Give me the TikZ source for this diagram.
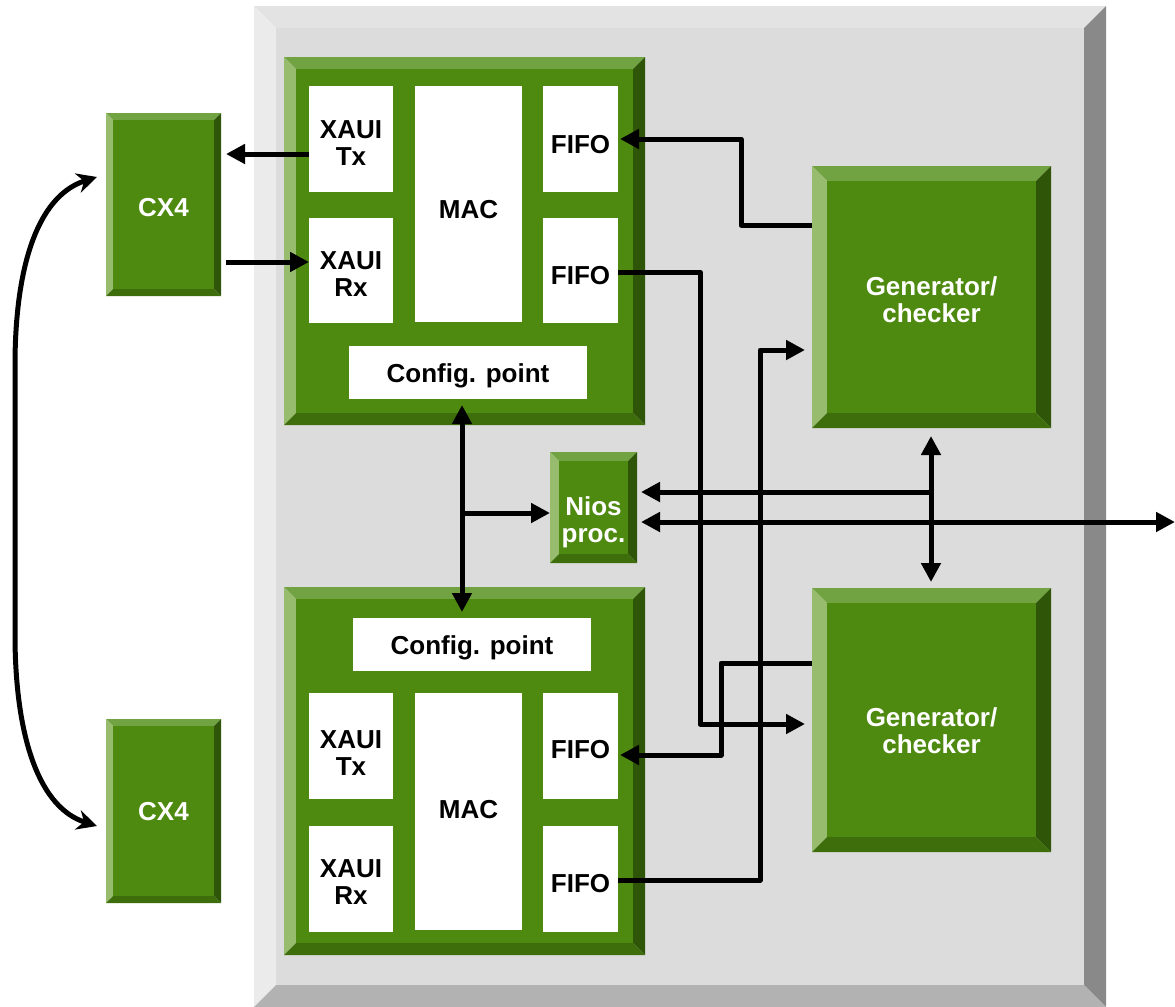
\documentclass[tikz,border=0pt]{standalone}
\usepackage{fontspec}
\setmainfont{Liberation Sans}
\usetikzlibrary{arrows.meta}
\definecolor{gtop}{HTML}{72A343}
\definecolor{gleft}{HTML}{97BC6E}
\definecolor{gright}{HTML}{2F5508}
\definecolor{gbot}{HTML}{3E6D0C}
\definecolor{gface}{HTML}{4F8A10}
\definecolor{ptop}{HTML}{E3E3E3}
\definecolor{pleft}{HTML}{EBEBEB}
\definecolor{pright}{HTML}{898989}
\definecolor{pbot}{HTML}{B2B2B2}
\definecolor{pface}{HTML}{DCDCDC}
% #1 name, #2-#5 x1 y1 x2 y2, #6 bevel, #7 palette, #8 text, #9 text drop (px)
\newcommand\bevbox[9]{%
  \fill[#7top] (#2,#3) -- (#4,#3) -- ({#4-#6},{#3+#6}) -- ({#2+#6},{#3+#6}) -- cycle;
  \fill[#7left] (#2,#3) -- ({#2+#6},{#3+#6}) -- ({#2+#6},{#5-#6}) -- (#2,#5) -- cycle;
  \fill[#7right] (#4,#3) -- (#4,#5) -- ({#4-#6},{#5-#6}) -- ({#4-#6},{#3+#6}) -- cycle;
  \fill[#7bot] (#2,#5) -- (#4,#5) -- ({#4-#6},{#5-#6}) -- ({#2+#6},{#5-#6}) -- cycle;
  \fill[#7face] ({#2+#6},{#3+#6}) rectangle ({#4-#6},{#5-#6});
  \node[boxat={#2}{#3}{#4}{#5}, label={[boxtext, text=white, yshift={-#9*0.5pt}]center:{#8}}] (#1) {};
}
% #1 name, #2-#5 x1 y1 x2 y2, #6 text, #7 text drop (px)
\newcommand\wb[7]{\node[boxat={#2}{#3}{#4}{#5}, fill=white, label={[boxtext, text=black, yshift={-#7*0.5pt}]center:{#6}}] (#1) {};}
\tikzset{
  boxat/.style n args={4}{inner sep=0pt, outer sep=0pt, anchor=center,
    minimum width={(#3-#1)*0.5pt}, minimum height={(#4-#2)*0.5pt},
    at={({(#1+#3)/2},{(#2+#4)/2})}},
  boxtext/.style={align=center, inner sep=0pt, font=\bfseries\fontsize{13}{13.5}\selectfont},
  arr/.style={line width=2.5pt, line join=round, -{Triangle[length=9.5pt,width=9.5pt]}},
  darr/.style={line width=2.5pt, line join=round, {Triangle[length=9.5pt,width=9.5pt]}-{Triangle[length=9.5pt,width=9.5pt]}},
  carr/.style={line width=2.5pt, {Stealth[length=10pt,width=10pt]}-{Stealth[length=10pt,width=10pt]}},
}
\begin{document}
\begin{tikzpicture}[x=0.5pt,y=-0.5pt]
\useasboundingbox (0,0) rectangle (1175,1007);
% panel
\bevbox{panel}{254}{6}{1106}{1007}{22}{p}{}{0}
% green blocks
\bevbox{mac1blk}{284}{57}{645}{425}{12}{g}{}{0}
\bevbox{mac2blk}{284}{587}{645}{955}{12}{g}{}{0}
\bevbox{cx1}{106}{113}{221}{296}{7}{g}{CX4}{3.5}
\bevbox{cx2}{106}{719}{221}{903}{7}{g}{CX4}{1}
\bevbox{gen1}{812}{166}{1051}{428}{15}{g}{Generator/\\checker}{2.5}
\bevbox{gen2}{812}{588}{1051}{852}{15}{g}{Generator/\\checker}{10.5}
\bevbox{nios}{550}{452}{637}{563}{9}{g}{Nios\\proc.}{14.5}
% white boxes, top block
\wb{xtx1}{309}{86}{393}{192}{XAUI\\Tx}{4.5}
\wb{mac1}{415}{86}{522}{322}{MAC}{6}
\wb{fifo1t}{543}{86}{618}{192}{FIFO}{6}
\wb{xrx1}{309}{218}{393}{323}{XAUI\\Rx}{3.5}
\wb{fifo1b}{543}{218}{618}{323}{FIFO}{5.5}
\wb{cfg1}{349}{346}{587}{399}{Config. point}{3.5}
% white boxes, bottom block
\wb{cfg2}{353}{618}{591}{671}{Config. point}{3.5}
\wb{xtx2}{309}{693}{393}{799}{XAUI\\Tx}{7}
\wb{mac2}{415}{693}{522}{930}{MAC}{-1.5}
\wb{fifo2t}{543}{693}{618}{799}{FIFO}{4}
\wb{xrx2}{309}{826}{393}{932}{XAUI\\Rx}{3}
\wb{fifo2b}{543}{826}{618}{932}{FIFO}{5}
% coordinates
\coordinate (j1) at (462,513);
\coordinate (j2) at (931,492);
\coordinate (outR) at (1175,522);
\coordinate (ca) at (97,177);
\coordinate (cb) at (97,826);
% connectors
\draw[arr, shorten >=2.5pt] (xtx1.west |- 0,154) -- (cx1.east |- 0,154);
\draw[arr, shorten <=2.5pt] (cx1.east |- 0,262) -- (xrx1.west |- 0,262);
\draw[arr, shorten >=1pt] (gen1.west |- 0,225) -| (741,139) -- (fifo1t.east);
\draw[arr, shorten >=3.5pt] (fifo1b.east |- 0,272) -| (700,724) -- (gen2.west |- 0,724);
\draw[arr, shorten >=3.5pt] (fifo2b.east |- 0,880) -| (760,350) -- (gen1.west |- 0,350);
\draw[arr, shorten >=1pt] (gen2.west |- 0,663) -| (721,755) -- (fifo2t.east |- 0,755);
\draw[darr, shorten <=3pt, shorten >=3pt] (cfg1.south -| j1) -- (cfg2.north -| j1);
\draw[arr] (j1) -- (nios.west |- j1);
\draw[darr, shorten <=4pt, shorten >=3pt] (gen1.south -| j2) -- (gen2.north -| j2);
\draw[arr, shorten >=2pt] (j2) -- (nios.east |- j2);
\draw[darr, shorten <=2pt] (nios.east |- outR) -- (outR);
\draw[carr] (ca) .. controls (40,195) and (16,260) .. (15,360) -- (15,640) .. controls (16,740) and (40,808) .. (cb);
\end{tikzpicture}
\end{document}
